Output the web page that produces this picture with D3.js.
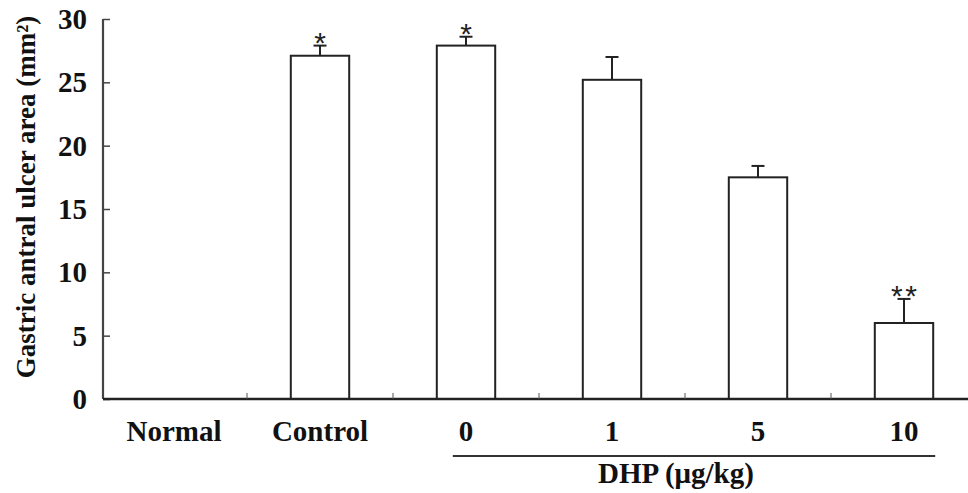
<!DOCTYPE html>
<html><head><meta charset="utf-8">
<script src="https://cdn.jsdelivr.net/npm/d3@7"></script>
<style>body{margin:0;background:#fff}svg{display:block}</style>
</head><body>
<svg id="c" width="968" height="493"></svg>
<script>
const categories = ["Normal","Control","0","1","5","10"];
const values = [0, 27.1, 27.9, 25.2, 17.5, 6.0];
const errors = [0, 0.8, 0.7, 1.8, 0.9, 1.9];
const marks = ["", "*", "*", "", "", "**"];
const yTicks = [0,5,10,15,20,25,30];
const groupLabel = "DHP (μg/kg)";
const yLabel = "Gastric antral ulcer area (mm²)";

const svg = d3.select("#c");
const font = "'Liberation Serif','Times New Roman',serif";
const x = d3.scaleBand().domain(categories).range([101, 977]).paddingInner(0.6).paddingOuter(0.3);
const xb = d3.scaleBand().domain(categories).range([101, 977]);
const y = d3.scaleLinear().domain([0,30]).range([399,19]);

// y axis
const ya = svg.append("g").attr("transform","translate(103,0)")
  .call(d3.axisRight(y).tickValues(yTicks).tickSize(7).tickFormat(""));
ya.select(".domain").attr("stroke","#444").attr("stroke-width",2.2).attr("d","M0,19V399");
ya.selectAll(".tick line").attr("stroke","#444").attr("stroke-width",1.5);
svg.append("g").selectAll("text").data(yTicks).join("text")
  .attr("x",87).attr("y",d=>y(d)).attr("dy","0.35em").attr("text-anchor","end")
  .attr("font-family",font).attr("font-weight","bold").attr("font-size",29).attr("fill","#111")
  .text(d=>d);

// bars
svg.append("g").selectAll("rect").data(categories.map((c,i)=>({c,v:values[i]})).filter(d=>d.v>0))
  .join("rect")
  .attr("x",d=>x(d.c)).attr("y",d=>y(d.v)).attr("width",x.bandwidth()).attr("height",d=>y(0)-y(d.v))
  .attr("fill","#fff").attr("stroke","#222").attr("stroke-width",2);

// error bars and significance marks
const eb = svg.append("g").attr("stroke","#222").attr("stroke-width",2);
categories.forEach((c,i)=>{
  if(values[i]<=0) return;
  const cx = x(c)+x.bandwidth()/2;
  const top = y(values[i]+errors[i]);
  eb.append("line").attr("x1",cx).attr("x2",cx).attr("y1",y(values[i])).attr("y2",top);
  eb.append("line").attr("x1",cx-6.5).attr("x2",cx+6.5).attr("y1",top).attr("y2",top);
  if(marks[i]) {
    const ls = marks[i].length>1 ? 2.5 : 0;
    svg.append("text").attr("x",cx+ls/2).attr("y",top+7.5)
      .attr("text-anchor","middle").attr("font-family","'Liberation Sans',Arial,sans-serif")
      .attr("font-size",30).attr("fill","#222").attr("letter-spacing",ls).text(marks[i]);
  }
});

// x axis
const xa = svg.append("g").attr("transform","translate(0,399)");
xa.append("line").attr("x1",103).attr("x2",968).attr("y1",0).attr("y2",0).attr("stroke","#222").attr("stroke-width",2.5);
xa.selectAll("line.t").data(categories.slice(1)).join("line").attr("class","t")
  .attr("x1",d=>xb(d)).attr("x2",d=>xb(d)).attr("y1",0).attr("y2",-6).attr("stroke","#555").attr("stroke-width",1);
svg.append("g").selectAll("text").data(categories).join("text")
  .attr("x",d=>xb(d)+xb.bandwidth()/2).attr("y",441).attr("text-anchor","middle")
  .attr("font-family",font).attr("font-weight","bold").attr("font-size",29).attr("fill","#111").text(d=>d);

// DHP group line
svg.append("line").attr("x1",x("0")+16).attr("x2",x("10")+x.bandwidth()+2).attr("y1",456).attr("y2",456)
  .attr("stroke","#333").attr("stroke-width",2);
svg.append("text").attr("x",676).attr("y",483).attr("text-anchor","middle")
  .attr("font-family",font).attr("font-weight","bold").attr("font-size",29).attr("fill","#111").text(groupLabel);

// y label
svg.append("text").attr("transform","translate(35,197) rotate(-90)").attr("text-anchor","middle")
  .attr("font-family",font).attr("font-weight","bold").attr("font-size",27).attr("fill","#111")
  .text(yLabel);
</script>
</body></html>
